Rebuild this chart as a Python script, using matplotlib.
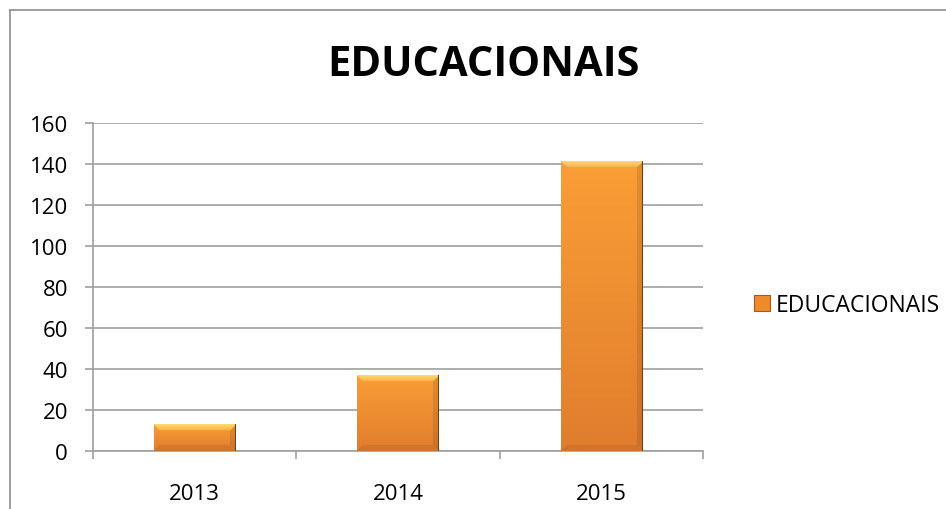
import numpy as np
import matplotlib.pyplot as plt
from matplotlib.lines import Line2D
from matplotlib.patches import Patch

years = ['2013', '2014', '2015']
values = [13, 37, 141]
series_name = 'EDUCACIONAIS'

plt.rcParams['font.family'] = ['Open Sans', 'DejaVu Sans']

fig = plt.figure(figsize=(9.46, 5.10), dpi=100)
ax = fig.add_axes([0.0983, 0.1137, 0.6448, 0.6431])

x = np.arange(len(years))
bar_w = 0.4
bars = ax.bar(x, values, width=bar_w, color='none', edgecolor='none', zorder=2)


def bevel_img(wpx, hpx, b=6):
    # orange face with bevelled edges, in pixel units
    wpx, hpx = max(int(wpx), 2), max(int(hpx), 2)
    yy, xx = np.mgrid[0:hpx, 0:wpx] + 0.5
    t = yy / hpx
    top_c = np.array([0.98, 0.62, 0.21])
    bot_c = np.array([0.88, 0.49, 0.18])
    img = top_c * (1 - t[..., None]) + bot_c * t[..., None]
    d = np.stack([yy, hpx - yy, xx, wpx - xx])
    edge = d.argmin(axis=0)
    near = d.min(axis=0) < b
    tb = (yy / b)[..., None]
    top_bev = np.array([1.0, 0.86, 0.42]) * (1 - tb) + np.array([0.99, 0.70, 0.28]) * tb
    img = np.where((near & (edge == 0))[..., None], top_bev, img)
    img[near & (edge == 1)] = img[near & (edge == 1)] * 0.93
    img[near & (edge == 2)] = img[near & (edge == 2)] * 1.0 + 0.0
    img[near & (edge == 3)] = img[near & (edge == 3)] * 0.9
    img = np.clip(img, 0, 1)
    img[:, -1] = [0.45, 0.25, 0.08]
    return img


ax.set_xlim(-0.5, len(years) - 0.5)
ax.set_ylim(0, 160)
ax_w_px = 0.6448 * 946
ax_h_px = 0.6431 * 510
for b in bars:
    x0 = b.get_x()
    h = b.get_height()
    wpx = bar_w / len(years) * ax_w_px
    hpx = h / 160 * ax_h_px
    ax.imshow(bevel_img(wpx, hpx), extent=(x0, x0 + bar_w, 0, h),
              aspect='auto', zorder=3, interpolation='bilinear')
ax.set_xlim(-0.5, len(years) - 0.5)
ax.set_ylim(0, 160)

grid_c = '#A0A0A0'
ax.set_yticks(np.arange(0, 161, 20))
ax.yaxis.grid(True, color=grid_c, linewidth=1.2, zorder=1)
ax.set_axisbelow(True)
ax.set_xticks(np.arange(-0.5, len(years), 1.0))
ax.set_xticklabels([])
ax.set_xticks(x, minor=True)
ax.set_xticklabels(years, minor=True)
ax.tick_params(axis='x', which='major', length=6, color=grid_c, width=1.2)
ax.tick_params(axis='x', which='minor', length=0, pad=23, labelsize=16)
ax.tick_params(axis='y', length=6, color=grid_c, width=1.2, pad=12, labelsize=16)
for s in ['top', 'right']:
    ax.spines[s].set_visible(False)
for s in ['left', 'bottom']:
    ax.spines[s].set_color(grid_c)
    ax.spines[s].set_linewidth(1.2)

fig.text(0.511, 0.871, series_name, ha='center', va='center',
         fontsize=30, fontweight='bold')

handle = Patch(facecolor='#F08A2C', edgecolor='#A85A14', linewidth=0.8)
fig.legend([handle], [series_name], loc='center left', bbox_to_anchor=(0.775, 0.40),
           frameon=False, fontsize=16.5, handlelength=0.7, handleheight=0.7,
           handletextpad=0.25)

# outer chart frame (only left and top visible)
fig.add_artist(Line2D([10 / 946, 10 / 946], [0, 1 - 11 / 510],
                      transform=fig.transFigure, color='#8C8C8C', linewidth=1.2))
fig.add_artist(Line2D([10 / 946, 1], [1 - 11 / 510, 1 - 11 / 510],
                      transform=fig.transFigure, color='#8C8C8C', linewidth=1.2))

fig.savefig('out.png', dpi=100)
